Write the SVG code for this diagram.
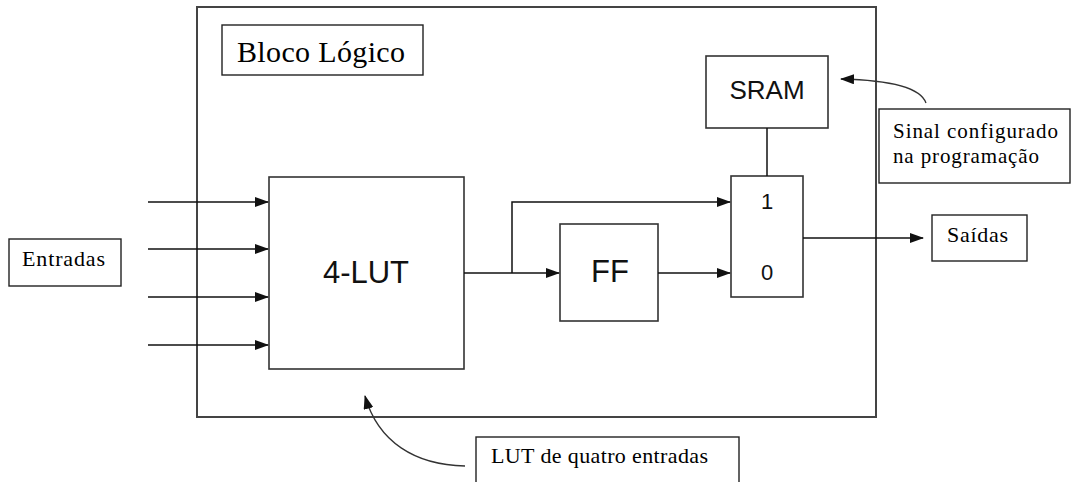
<svg xmlns="http://www.w3.org/2000/svg" width="1071" height="482" viewBox="0 0 1071 482">
<style>
.box{fill:#fff;stroke:#333;stroke-width:1.6}
.lbl{fill:#fff;stroke:#222;stroke-width:1.4}
.ln{fill:none;stroke:#111;stroke-width:1.5}
.cv{fill:none;stroke:#333;stroke-width:1.3}
.sans{font-family:"Liberation Sans",Arial,sans-serif;fill:#111;text-anchor:middle}
.serif{font-family:"Liberation Serif","Times New Roman",serif;fill:#000}
</style>
<defs>
<marker id="ah" markerWidth="14" markerHeight="10" refX="13" refY="5" orient="auto" markerUnits="userSpaceOnUse">
<path d="M0,0 L14,5 L0,10 Z" fill="#111"/>
</marker>
</defs>
<rect width="1071" height="482" fill="#fff"/>
<g id="bloco">
<rect x="197" y="7" width="679" height="410" fill="none" stroke="#444" stroke-width="2"/>
</g>
<g id="bloco-label">
<rect class="lbl" x="222" y="25" width="201" height="50"/>
<text class="serif" x="237" y="62" font-size="30" textLength="168" lengthAdjust="spacing">Bloco Lógico</text>
</g>
<g id="entradas">
<rect class="lbl" x="9" y="239" width="112" height="47"/>
<text class="serif" x="22" y="266" font-size="22" textLength="83" lengthAdjust="spacing">Entradas</text>
</g>
<g id="lut">
<rect class="box" x="269" y="177" width="195" height="192"/>
<text class="sans" x="366" y="283" font-size="31">4-LUT</text>
</g>
<g id="ff">
<rect class="box" x="560" y="224" width="98" height="97"/>
<text class="sans" x="610" y="282" font-size="31">FF</text>
</g>
<g id="mux">
<rect class="box" x="731" y="176" width="72" height="121"/>
<text class="sans" x="767" y="209" font-size="22">1</text>
<text class="sans" x="767" y="280" font-size="22">0</text>
</g>
<g id="sram">
<rect class="box" x="706" y="56" width="122" height="72"/>
<text class="sans" x="767" y="99" font-size="26">SRAM</text>
</g>
<g id="saidas">
<rect class="lbl" x="932" y="215" width="95" height="46"/>
<text class="serif" x="947" y="242" font-size="22" textLength="61" lengthAdjust="spacing">Saídas</text>
</g>
<g id="sinal">
<rect class="lbl" x="879" y="109" width="191" height="74"/>
<text class="serif" x="893" y="138" font-size="21" textLength="165" lengthAdjust="spacing">Sinal configurado</text>
<text class="serif" x="893" y="163" font-size="21" textLength="146" lengthAdjust="spacing">na programação</text>
</g>
<g id="lut-label">
<rect class="lbl" x="476" y="437" width="263" height="60"/>
<text class="serif" x="491" y="463" font-size="22" textLength="217" lengthAdjust="spacing">LUT de quatro entradas</text>
</g>
<g id="connectors">
<line class="ln" x1="148" y1="202" x2="268" y2="202" marker-end="url(#ah)"/>
<line class="ln" x1="148" y1="249" x2="268" y2="249" marker-end="url(#ah)"/>
<line class="ln" x1="148" y1="297" x2="268" y2="297" marker-end="url(#ah)"/>
<line class="ln" x1="148" y1="345" x2="268" y2="345" marker-end="url(#ah)"/>
<line class="ln" x1="464" y1="273" x2="559" y2="273" marker-end="url(#ah)"/>
<polyline class="ln" points="512,273 512,202 730,202" marker-end="url(#ah)"/>
<line class="ln" x1="658" y1="273" x2="730" y2="273" marker-end="url(#ah)"/>
<line class="ln" x1="767" y1="128" x2="767" y2="176"/>
<line class="ln" x1="803" y1="238" x2="923" y2="238" marker-end="url(#ah)"/>
<path class="cv" d="M926,103 C920,86 885,80 841,79" marker-end="url(#ah)"/>
<path class="cv" d="M465,466 C415,465 378,442 365,396" marker-end="url(#ah)"/>
</g>
</svg>
